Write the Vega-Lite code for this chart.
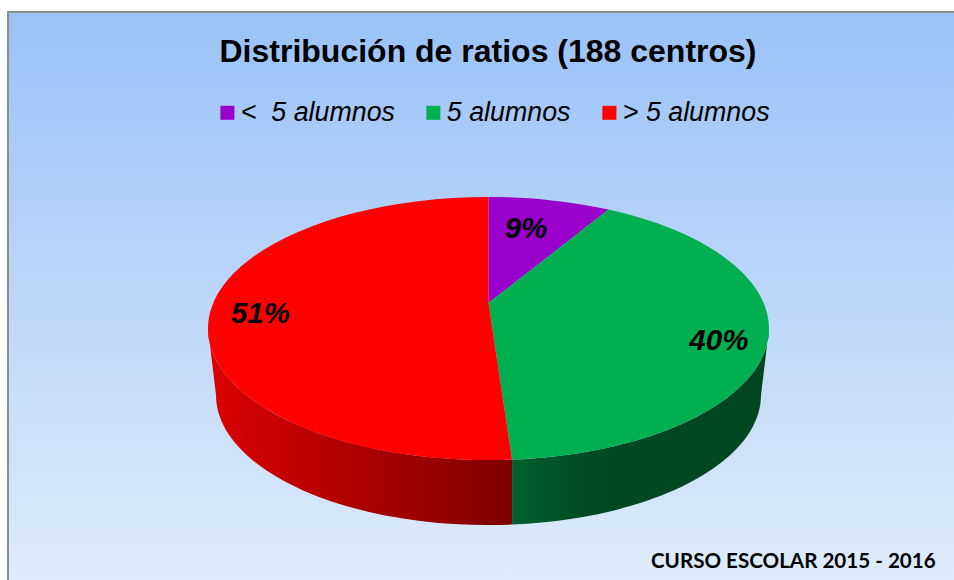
{
"$schema":"https://vega.github.io/schema/vega-lite/v6.json",
"width":954,"height":580,
"autosize":{"type":"fit","contains":"padding"},
"padding":0,
"background":"white",
"config":{"view":{"stroke":null},"axis":{"disable":true}},
"title":{"text":"Distribución de ratios (188 centros)","font":"Liberation Sans","fontSize":32,"fontWeight":"bold","color":"black","anchor":"middle","dx":11,"offset":-69},
"data":{"values":[
{"category":"<\u00a0 5 alumnos","value":8.5},
{"category":"5 alumnos","value":40.4},
{"category":"> 5 alumnos","value":51.1}
]},
"transform":[
{"window":[{"op":"sum","field":"value","as":"v1"}],"frame":[null,0]},
{"joinaggregate":[{"op":"sum","field":"value","as":"total"}]},
{"calculate":"2*PI*(datum.v1-datum.value)/datum.total","as":"a0"},
{"calculate":"2*PI*datum.v1/datum.total","as":"a1"},
{"calculate":"(datum.a0+datum.a1)/2","as":"am"},
{"calculate":"round(100*275.2*sin(datum.a0)/(1+0.194*cos(datum.a0)))/100","as":"x0"},
{"calculate":"round(-100*126.6*cos(datum.a0)/(1+0.194*cos(datum.a0)))/100","as":"y0"},
{"calculate":"round(100*275.2*sin(datum.am)/(1+0.194*cos(datum.am)))/100","as":"xm"},
{"calculate":"round(-100*126.6*cos(datum.am)/(1+0.194*cos(datum.am)))/100","as":"ym"},
{"calculate":"round(100*275.2*sin(datum.a1)/(1+0.194*cos(datum.a1)))/100","as":"x1"},
{"calculate":"round(-100*126.6*cos(datum.a1)/(1+0.194*cos(datum.a1)))/100","as":"y1"},
{"calculate":"'M0,0L'+datum.x0+','+datum.y0+'A280.5,131.5,0,0,1,'+datum.xm+','+datum.ym+'A280.5,131.5,0,0,1,'+datum.x1+','+datum.y1+'Z'","as":"topPath"},
{"calculate":"'M-280.5,25.5L-272.5,92A272.5,130,0,0,0,'+datum.x0+','+(datum.y0+65)+'L'+datum.x0+','+datum.y0+'A280.5,131.5,0,0,1,-280.5,25.5Z'","as":"sideRed"},
{"calculate":"'M'+datum.x1+','+datum.y1+'L'+datum.x1+','+(datum.y1+65)+'A272.5,130,0,0,0,272.5,92L280.5,25.5A280.5,131.5,0,0,1,'+datum.x1+','+datum.y1+'Z'","as":"sideGreen"},
{"calculate":"datum.value<10?0.7:0.83","as":"r"},
{"calculate":"275.2*datum.r*sin(datum.am)/(1+0.194*datum.r*cos(datum.am))+(datum.value<10?-7:(datum.value>50?2:0))","as":"lx"},
{"calculate":"-126.6*datum.r*cos(datum.am)/(1+0.194*datum.r*cos(datum.am))+(datum.value<10?2:(datum.value>50?7:13))","as":"ly"},
{"calculate":"round(datum.value)+'%'","as":"label"}
],
"layer":[
{"data":{"values":[{}]},
 "mark":{"type":"rect","clip":true,"stroke":"#8c8c8c","strokeWidth":2,"fill":{"gradient":"linear","x1":0,"y1":0,"x2":0,"y2":1,"stops":[{"offset":0,"color":"#9ac2f7"},{"offset":1,"color":"#e0ecfb"}]}},
 "transform":[],
 "encoding":{
  "x":{"datum":-480,"type":"quantitative","scale":{"domain":[-488,466],"nice":false,"zero":false}},
  "x2":{"datum":480},
  "y":{"datum":-291,"type":"quantitative","scale":{"domain":[277,-303],"nice":false,"zero":false}},
  "y2":{"datum":290}
 }},
{"transform":[{"filter":"datum.value>50"}],
 "mark":{"type":"point","filled":true,"size":4,"opacity":1,"fill":{"gradient":"linear","x1":0,"y1":0,"x2":1,"y2":0,"stops":[{"offset":0,"color":"#dc0000"},{"offset":1,"color":"#7e0000"}]}},
 "encoding":{
  "x":{"datum":0.5,"type":"quantitative"},
  "y":{"datum":0,"type":"quantitative"},
  "shape":{"field":"sideRed","type":"nominal","scale":null}
 }},
{"transform":[{"filter":"datum.value>20 && datum.value<50"}],
 "mark":{"type":"point","filled":true,"size":4,"opacity":1,"fill":{"gradient":"linear","x1":0,"y1":0,"x2":1,"y2":0,"stops":[{"offset":0,"color":"#00602e"},{"offset":0.3,"color":"#004a24"},{"offset":1,"color":"#00451f"}]}},
 "encoding":{
  "x":{"datum":0.5,"type":"quantitative"},
  "y":{"datum":0,"type":"quantitative"},
  "shape":{"field":"sideGreen","type":"nominal","scale":null}
 }},
{"mark":{"type":"point","filled":true,"size":4,"opacity":1},
 "encoding":{
  "x":{"datum":0.5,"type":"quantitative"},
  "y":{"datum":0,"type":"quantitative"},
  "shape":{"field":"topPath","type":"nominal","scale":null},
  "color":{"field":"category","type":"nominal","sort":null,
   "scale":{"domain":["<\u00a0 5 alumnos","5 alumnos","> 5 alumnos"],"range":["#9900cc","#00b050","#ff0000"]},
   "legend":{"title":null,"orient":"none","legendX":214,"legendY":99,"direction":"horizontal","columns":3,"symbolType":"square","symbolSize":196,"symbolStrokeWidth":0,"labelFont":"Liberation Sans","labelFontSize":26.8,"labelFontStyle":"italic","labelColor":"black","labelOffset":0,"columnPadding":25,"labelLimit":300}}
 }},
{"mark":{"type":"text","font":"Liberation Sans","fontSize":29.5,"fontWeight":"bold","fontStyle":"italic","color":"black","align":"center","baseline":"middle"},
 "encoding":{
  "x":{"field":"lx","type":"quantitative"},
  "y":{"field":"ly","type":"quantitative"},
  "text":{"field":"label"}
 }},
{"data":{"values":[{}]},
 "transform":[],
 "mark":{"type":"text","text":"CURSO ESCOLAR 2015 - 2016","font":"Lato","fontSize":20.6,"fontWeight":"bold","color":"black","align":"left","baseline":"middle"},
 "encoding":{
  "x":{"datum":163,"type":"quantitative"},
  "y":{"datum":258.5,"type":"quantitative"}
 }}
]
}
